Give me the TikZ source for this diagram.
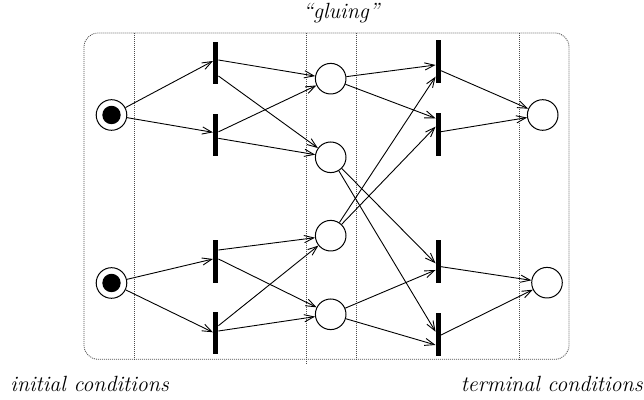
\documentclass[tikz,border=0pt]{standalone}
\usetikzlibrary{arrows.meta}
\begin{document}
\begin{tikzpicture}[x=0.5pt,y=-0.5pt,
  place/.style={circle,draw,line width=0.5pt,minimum size=15.3pt,inner sep=0pt},
  bar/.style={rectangle,fill=black,draw=none,minimum width=2.35pt,minimum height=21.3pt,inner sep=0pt},
  arc/.style={line width=0.45pt,-{Straight Barb[length=4.8pt,width=3.6pt,line width=0.45pt]}},
  sep/.style={line width=0.4pt,black!70,dash pattern=on 0.5pt off 0.5pt},
  lbl/.style={font=\fontsize{11}{13}\selectfont\itshape,inner sep=0pt}]
\useasboundingbox (0,0) rectangle (644,400);
% frame and separators
\draw[sep,rounded corners=7pt] (84,33) rectangle (569,359.3);
\draw[sep] (134.3,33) -- (134.3,359.3);
\draw[sep] (306.7,33) -- (306.7,363.5);
\draw[sep] (356.3,33) -- (356.3,359.3);
\draw[sep] (519.3,33) -- (519.3,359.3);
% places
\node[place] (I1) at (111.5,115) {};
\node[place] (I2) at (111.5,283) {};
\fill (I1.center) circle (4.6pt);
\fill (I2.center) circle (4.6pt);
\node[place] (P1) at (330.7,78.7) {};
\node[place] (P2) at (330.7,157.3) {};
\node[place] (P3) at (330.7,235.7) {};
\node[place] (P4) at (330.7,314.3) {};
\node[place] (F1) at (542.7,115) {};
\node[place] (F2) at (547,282.7) {};
% transitions
\node[bar] (T1) at (215.7,63) {};
\node[bar] (T2) at (215.7,134.85) {};
\node[bar] (T3) at (215.7,261.5) {};
\node[bar] (T4) at (215.7,333) {};
\node[bar] (T5) at (438.3,61.7) {};
\node[bar] (T6) at (438.3,134.7) {};
\node[bar] (T7) at (438.3,261.3) {};
\node[bar] (T8) at (438.3,334.7) {};
% arcs: initial -> left transitions
\draw[arc] (I1) -- ([yshift=1pt]T1.west);
\draw[arc] (I1) -- ([yshift=1.25pt]T2.west);
\draw[arc] (I2) -- ([yshift=1.25pt]T3.west);
\draw[arc] (I2) -- ([yshift=0.35pt]T4.west);
% left transitions -> middle places
\draw[arc] ([yshift=1.5pt]T1.east) -- (P1);
\draw[arc] ([yshift=-6.5pt]T1.east) -- (P2);
\draw[arc] ([yshift=1.5pt]T2.east) -- (P1);
\draw[arc] ([yshift=-1.75pt]T2.east) -- (P2);
\draw[arc] ([yshift=5.75pt]T3.east) -- (P3);
\draw[arc] ([yshift=1.25pt]T3.east) -- (P4);
\draw[arc] ([yshift=3.65pt]T4.east) -- (P3);
\draw[arc] ([yshift=1pt]T4.east) -- (P4);
% middle places -> right transitions
\draw[arc] (P1) -- ([yshift=-1.65pt]T5.west);
\draw[arc] (P1) -- ([yshift=8.2pt]T6.west);
\draw[arc] (P3) -- ([yshift=-7.5pt]T5.west);
\draw[arc] (P3) -- ([yshift=4pt]T6.west);
\draw[arc] (P2) -- ([yshift=-1pt]T7.west);
\draw[arc] (P2) -- ([yshift=1.5pt]T8.west);
\draw[arc] (P4) -- ([yshift=-4.35pt]T7.west);
\draw[arc] (P4) -- ([yshift=-5.15pt]T8.west);
% right transitions -> terminal places
\draw[arc] ([yshift=-4.5pt]T5.east) -- (F1);
\draw[arc] ([yshift=1.5pt]T6.east) -- (F1);
\draw[arc] ([yshift=-2.7pt]T7.east) -- (F2);
\draw[arc] ([yshift=-0.15pt]T8.east) -- (F2);
% labels
\node[lbl,anchor=base] (glue) at (341,18.5) {``gluing''};
\node[lbl,anchor=base west] (init) at (10,392) {initial conditions};
\node[lbl,anchor=base east] (term) at (643,392) {terminal conditions};
\end{tikzpicture}
\end{document}
